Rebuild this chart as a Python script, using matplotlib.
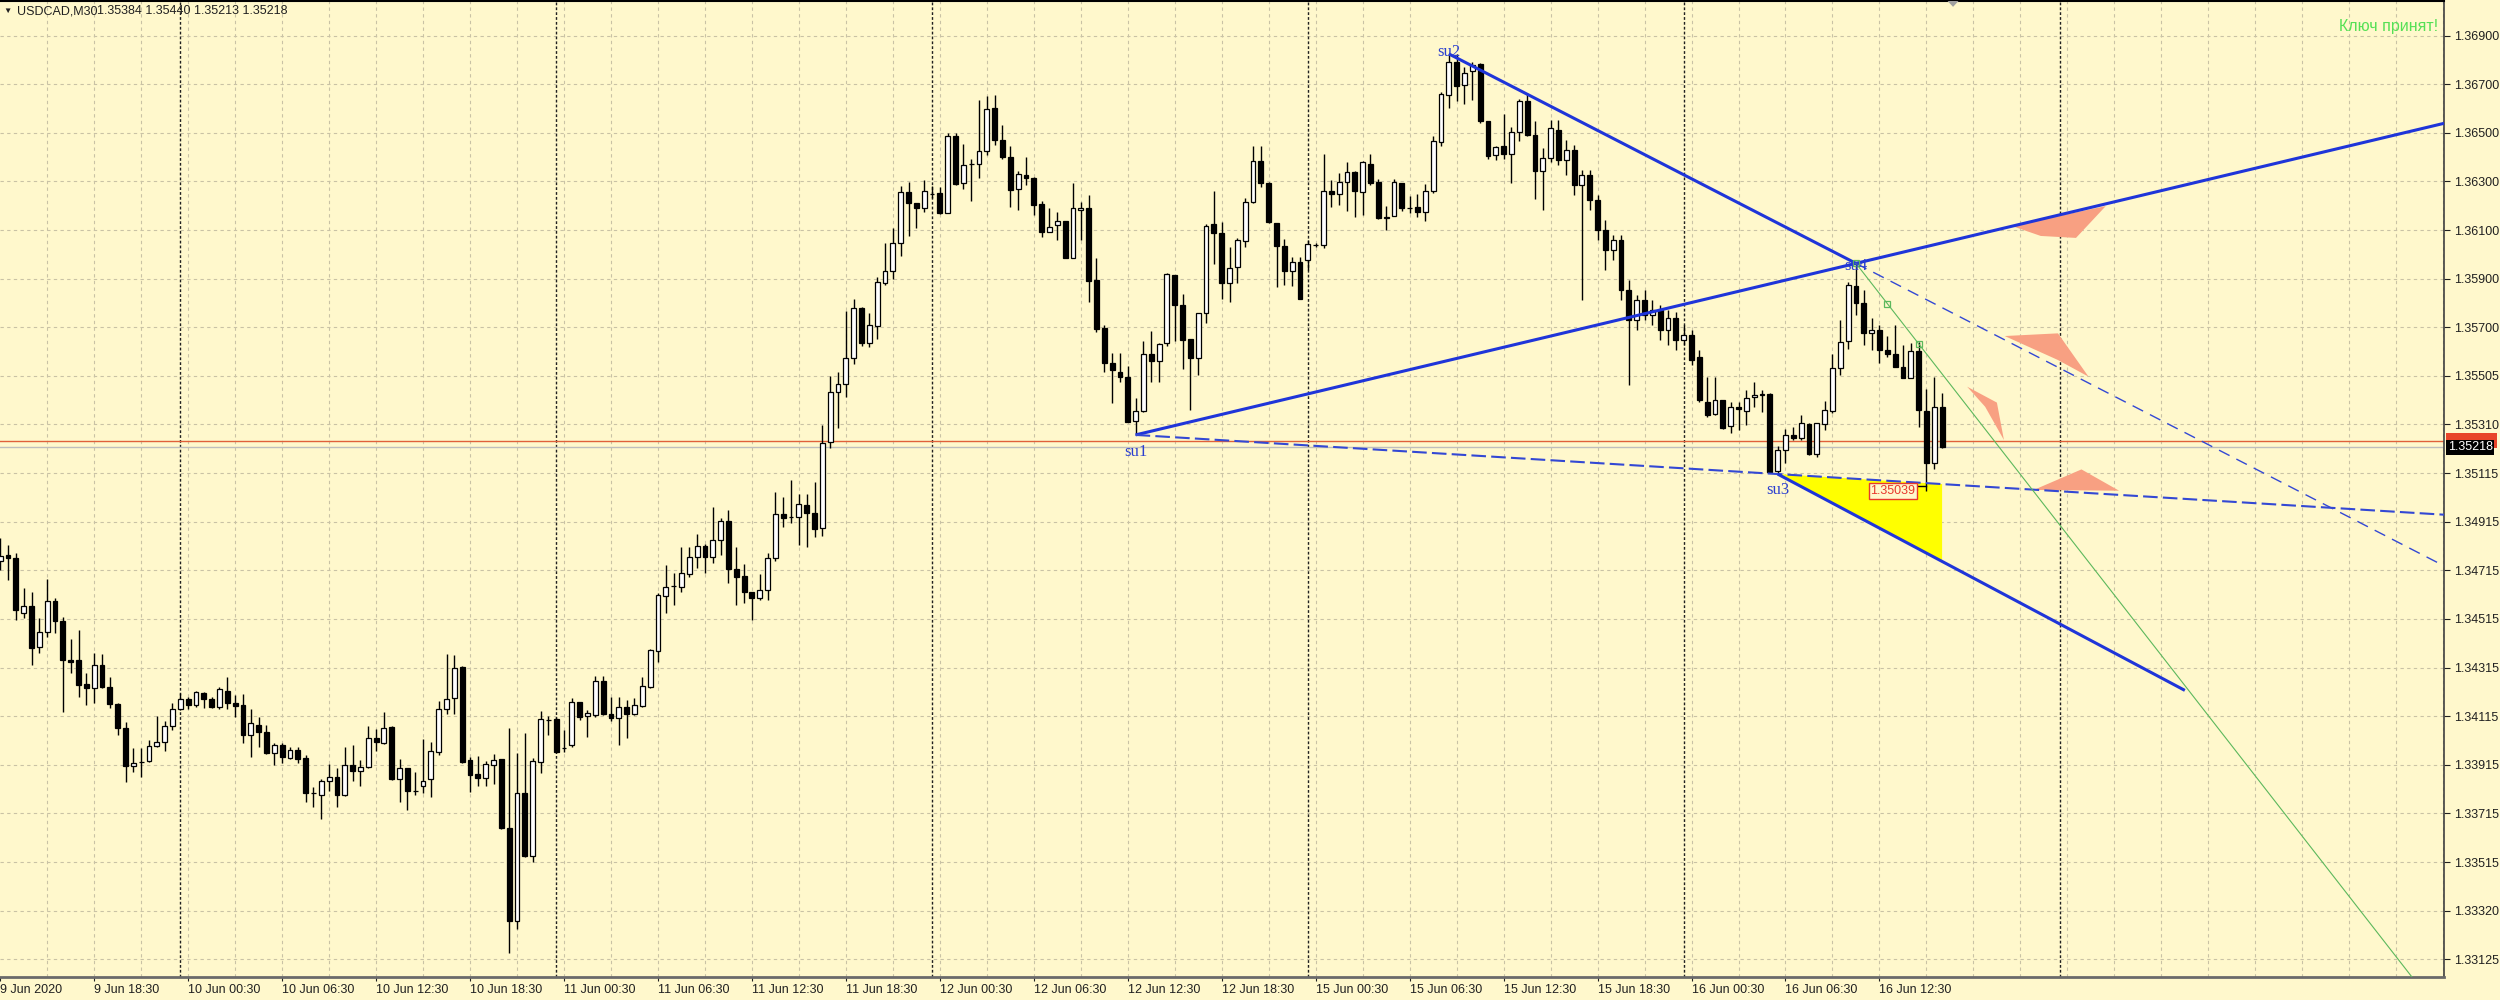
import numpy as np
import matplotlib.pyplot as plt
from matplotlib.patches import Polygon, Rectangle

plt.rcParams['font.family'] = ['Liberation Sans', 'DejaVu Sans']

# --- данные: бары M30 USDCAD, индекс 0 = 10 Jun 00:00 ---
first_bar = -23

opens = [
    1.34754, 1.34777, 1.34764, 1.34539, 1.34569, 1.34400, 1.34464, 1.34589, 1.34508, 1.34348,
    1.34348, 1.34249, 1.34233, 1.34328, 1.34237, 1.34167, 1.34072, 1.33915, 1.33933, 1.33937,
    1.33998, 1.34012, 1.34080, 1.34147, 1.34188, 1.34163, 1.34212, 1.34188, 1.34155, 1.34220,
    1.34173, 1.34163, 1.34041, 1.34084, 1.34053, 1.33969, 1.34000, 1.33946, 1.33980, 1.33949,
    1.33803, 1.33796, 1.33854, 1.33871, 1.33795, 1.33918, 1.33896, 1.33910, 1.34028, 1.34010,
    1.34074, 1.33863, 1.33906, 1.33814, 1.33833, 1.33863, 1.33974, 1.34147, 1.34192, 1.34318,
    1.33938, 1.33881, 1.33867, 1.33919, 1.33942, 1.33663, 1.33283, 1.33806, 1.33547, 1.33933,
    1.34103, 1.34106, 1.33987, 1.34001, 1.34175, 1.34119, 1.34123, 1.34264, 1.34128, 1.34112,
    1.34157, 1.34128, 1.34160, 1.34239, 1.34385, 1.34610, 1.34651, 1.34648, 1.34700, 1.34768,
    1.34814, 1.34768, 1.34839, 1.34917, 1.34719, 1.34691, 1.34627, 1.34600, 1.34634, 1.34764,
    1.34945, 1.34934, 1.34934, 1.34982, 1.34948, 1.34886, 1.35240, 1.35442, 1.35475, 1.35581,
    1.35785, 1.35645, 1.35713, 1.35890, 1.35939, 1.36051, 1.36262, 1.36217, 1.36194, 1.36253,
    1.36258, 1.36176, 1.36490, 1.36296, 1.36374, 1.36374, 1.36428, 1.36605, 1.36473, 1.36405,
    1.36272, 1.36330, 1.36319, 1.36212, 1.36099, 1.36126, 1.36143, 1.35992, 1.36187, 1.36194,
    1.35901, 1.35704, 1.35563, 1.35526, 1.35506, 1.35326, 1.35366, 1.35599, 1.35571, 1.35642,
    1.35922, 1.35799, 1.35659, 1.35584, 1.35765, 1.36130, 1.36094, 1.35890, 1.35953, 1.36062,
    1.36221, 1.36389, 1.36299, 1.36133, 1.36040, 1.35939, 1.35973, 1.35983, 1.36044, 1.36044,
    1.36265, 1.36253, 1.36303, 1.36344, 1.36260, 1.36375, 1.36303, 1.36153, 1.36164, 1.36299,
    1.36197, 1.36198, 1.36178, 1.36266, 1.36464, 1.36657, 1.36791, 1.36698, 1.36755, 1.36783,
    1.36551, 1.36412, 1.36450, 1.36416, 1.36507, 1.36633, 1.36494, 1.36348, 1.36398, 1.36514,
    1.36392, 1.36432, 1.36289, 1.36330, 1.36228, 1.36105, 1.36024, 1.36065, 1.35860, 1.35738,
    1.35819, 1.35758, 1.35778, 1.35697, 1.35746, 1.35656, 1.35676, 1.35587, 1.35404, 1.35353,
    1.35411, 1.35304, 1.35381, 1.35367, 1.35422, 1.35430, 1.35435, 1.35122, 1.35206, 1.35268,
    1.35254, 1.35313, 1.35190, 1.35313, 1.35367, 1.35540, 1.35652, 1.35877, 1.35806, 1.35683,
    1.35697, 1.35615, 1.35599, 1.35547, 1.35502, 1.35611, 1.35367, 1.35154, 1.35384,
]
highs = [
    1.34846, 1.34818, 1.34784, 1.34641, 1.34627, 1.34519, 1.34679, 1.34600, 1.34525, 1.34433,
    1.34471, 1.34296, 1.34378, 1.34373, 1.34280, 1.34171, 1.34096, 1.33987, 1.33987, 1.34021,
    1.34119, 1.34100, 1.34174, 1.34212, 1.34198, 1.34220, 1.34219, 1.34198, 1.34237, 1.34278,
    1.34205, 1.34209, 1.34148, 1.34117, 1.34083, 1.34010, 1.34008, 1.33991, 1.33991, 1.33960,
    1.33830, 1.33861, 1.33922, 1.33906, 1.33994, 1.34001, 1.33940, 1.34079, 1.34066, 1.34137,
    1.34079, 1.33944, 1.33906, 1.33889, 1.34024, 1.34012, 1.34182, 1.34373, 1.34369, 1.34324,
    1.33951, 1.33956, 1.33937, 1.33964, 1.33944, 1.34070, 1.33967, 1.34049, 1.33946, 1.34140,
    1.34119, 1.34114, 1.34062, 1.34192, 1.34175, 1.34144, 1.34283, 1.34283, 1.34196, 1.34196,
    1.34185, 1.34192, 1.34278, 1.34392, 1.34621, 1.34735, 1.34705, 1.34809, 1.34811, 1.34863,
    1.34822, 1.34975, 1.34927, 1.34961, 1.34811, 1.34741, 1.34627, 1.34698, 1.34784, 1.35036,
    1.35013, 1.35084, 1.35027, 1.35027, 1.35074, 1.35309, 1.35510, 1.35526, 1.35776, 1.35822,
    1.35792, 1.35767, 1.35915, 1.36051, 1.36112, 1.36285, 1.36300, 1.36217, 1.36310, 1.36285,
    1.36282, 1.36501, 1.36503, 1.36457, 1.36394, 1.36637, 1.36653, 1.36657, 1.36534, 1.36449,
    1.36348, 1.36402, 1.36323, 1.36225, 1.36194, 1.36180, 1.36143, 1.36296, 1.36221, 1.36248,
    1.35990, 1.35717, 1.35602, 1.35602, 1.35551, 1.35418, 1.35653, 1.35694, 1.35642, 1.35931,
    1.35922, 1.35843, 1.35659, 1.35768, 1.36130, 1.36266, 1.36139, 1.36037, 1.36072, 1.36237,
    1.36450, 1.36450, 1.36303, 1.36133, 1.36067, 1.35996, 1.35994, 1.36065, 1.36051, 1.36416,
    1.36310, 1.36337, 1.36385, 1.36348, 1.36389, 1.36415, 1.36313, 1.36204, 1.36314, 1.36299,
    1.36244, 1.36253, 1.36293, 1.36490, 1.36671, 1.36825, 1.36823, 1.36773, 1.36793, 1.36789,
    1.36551, 1.36450, 1.36579, 1.36528, 1.36640, 1.36667, 1.36552, 1.36439, 1.36555, 1.36555,
    1.36473, 1.36453, 1.36351, 1.36351, 1.36248, 1.36146, 1.36085, 1.36085, 1.35901, 1.35840,
    1.35860, 1.35819, 1.35799, 1.35778, 1.35770, 1.35717, 1.35697, 1.35615, 1.35506, 1.35506,
    1.35411, 1.35404, 1.35404, 1.35452, 1.35485, 1.35452, 1.35439, 1.35223, 1.35291, 1.35302,
    1.35349, 1.35315, 1.35318, 1.35408, 1.35599, 1.35738, 1.35894, 1.35969, 1.35860, 1.35745,
    1.35717, 1.35672, 1.35717, 1.35635, 1.35645, 1.35649, 1.35454, 1.35503, 1.35440,
]
lows = [
    1.34716, 1.34675, 1.34512, 1.34519, 1.34328, 1.34376, 1.34443, 1.34457, 1.34137, 1.34294,
    1.34198, 1.34164, 1.34174, 1.34235, 1.34151, 1.34042, 1.33851, 1.33889, 1.33871, 1.33933,
    1.33994, 1.33976, 1.34062, 1.34144, 1.34147, 1.34157, 1.34151, 1.34151, 1.34147, 1.34147,
    1.34117, 1.34010, 1.33951, 1.33994, 1.33965, 1.33919, 1.33929, 1.33942, 1.33926, 1.33769,
    1.33749, 1.33697, 1.33814, 1.33749, 1.33793, 1.33855, 1.33835, 1.33906, 1.33976, 1.34004,
    1.33858, 1.33767, 1.33735, 1.33796, 1.33803, 1.33787, 1.33960, 1.34128, 1.34126, 1.33926,
    1.33810, 1.33835, 1.33835, 1.33841, 1.33658, 1.33150, 1.33248, 1.33544, 1.33524, 1.33888,
    1.34042, 1.33970, 1.33974, 1.33991, 1.34103, 1.34035, 1.34114, 1.34123, 1.34099, 1.34001,
    1.34028, 1.34123, 1.34157, 1.34233, 1.34341, 1.34541, 1.34573, 1.34626, 1.34689, 1.34723,
    1.34705, 1.34743, 1.34777, 1.34662, 1.34573, 1.34580, 1.34512, 1.34593, 1.34593, 1.34754,
    1.34890, 1.34907, 1.34818, 1.34809, 1.34852, 1.34855, 1.35213, 1.35295, 1.35422, 1.35558,
    1.35631, 1.35626, 1.35659, 1.35881, 1.35904, 1.36000, 1.36081, 1.36115, 1.36180, 1.36235,
    1.36172, 1.36175, 1.36289, 1.36272, 1.36225, 1.36317, 1.36412, 1.36453, 1.36394, 1.36201,
    1.36187, 1.36289, 1.36167, 1.36076, 1.36099, 1.36065, 1.35990, 1.35990, 1.36065, 1.35812,
    1.35690, 1.35526, 1.35397, 1.35486, 1.35320, 1.35268, 1.35363, 1.35486, 1.35486, 1.35631,
    1.35653, 1.35537, 1.35370, 1.35513, 1.35724, 1.35965, 1.35822, 1.35812, 1.35888, 1.36037,
    1.36217, 1.36280, 1.36135, 1.35871, 1.35881, 1.35877, 1.35824, 1.35942, 1.36037, 1.36031,
    1.36198, 1.36208, 1.36184, 1.36157, 1.36167, 1.36289, 1.36149, 1.36105, 1.36163, 1.36184,
    1.36174, 1.36157, 1.36143, 1.36255, 1.36449, 1.36603, 1.36634, 1.36620, 1.36637, 1.36541,
    1.36394, 1.36392, 1.36394, 1.36299, 1.36470, 1.36490, 1.36231, 1.36187, 1.36383, 1.36371,
    1.36330, 1.36248, 1.35819, 1.36187, 1.36065, 1.35942, 1.35983, 1.35819, 1.35472, 1.35697,
    1.35738, 1.35717, 1.35656, 1.35635, 1.35615, 1.35635, 1.35554, 1.35403, 1.35342, 1.35349,
    1.35293, 1.35275, 1.35288, 1.35309, 1.35383, 1.35363, 1.35114, 1.35108, 1.35152, 1.35247,
    1.35247, 1.35186, 1.35177, 1.35288, 1.35356, 1.35513, 1.35619, 1.35758, 1.35635, 1.35615,
    1.35561, 1.35588, 1.35544, 1.35499, 1.35499, 1.35302, 1.35039, 1.35127, 1.35213,
]
closes = [
    1.34773, 1.34764, 1.34552, 1.34569, 1.34396, 1.34464, 1.34589, 1.34508, 1.34348, 1.34341,
    1.34246, 1.34233, 1.34328, 1.34237, 1.34167, 1.34072, 1.33916, 1.33929, 1.33932, 1.33998,
    1.34014, 1.34080, 1.34147, 1.34188, 1.34163, 1.34217, 1.34188, 1.34155, 1.34229, 1.34171,
    1.34161, 1.34041, 1.34090, 1.34053, 1.33967, 1.34000, 1.33953, 1.33980, 1.33942, 1.33803,
    1.33803, 1.33854, 1.33871, 1.33796, 1.33918, 1.33896, 1.33912, 1.34028, 1.34014, 1.34069,
    1.33862, 1.33906, 1.33814, 1.33814, 1.33855, 1.33976, 1.34147, 1.34189, 1.34317, 1.33933,
    1.33880, 1.33867, 1.33922, 1.33940, 1.33660, 1.33283, 1.33806, 1.33547, 1.33937, 1.34106,
    1.34103, 1.33974, 1.33987, 1.34178, 1.34114, 1.34130, 1.34264, 1.34128, 1.34112, 1.34155,
    1.34128, 1.34163, 1.34243, 1.34389, 1.34614, 1.34648, 1.34651, 1.34702, 1.34768, 1.34814,
    1.34768, 1.34839, 1.34917, 1.34719, 1.34686, 1.34627, 1.34600, 1.34634, 1.34766, 1.34945,
    1.34927, 1.34934, 1.34984, 1.34948, 1.34882, 1.35236, 1.35442, 1.35475, 1.35581, 1.35785,
    1.35642, 1.35717, 1.35894, 1.35939, 1.36054, 1.36262, 1.36217, 1.36194, 1.36265, 1.36253,
    1.36174, 1.36490, 1.36293, 1.36371, 1.36374, 1.36430, 1.36600, 1.36473, 1.36402, 1.36269,
    1.36333, 1.36317, 1.36208, 1.36096, 1.36116, 1.36143, 1.35992, 1.36194, 1.36194, 1.35897,
    1.35701, 1.35563, 1.35533, 1.35504, 1.35322, 1.35366, 1.35599, 1.35571, 1.35638, 1.35924,
    1.35799, 1.35656, 1.35584, 1.35768, 1.36122, 1.36094, 1.35890, 1.35949, 1.36065, 1.36221,
    1.36389, 1.36296, 1.36137, 1.36040, 1.35939, 1.35973, 1.35824, 1.36048, 1.36044, 1.36266,
    1.36253, 1.36303, 1.36344, 1.36266, 1.36382, 1.36296, 1.36153, 1.36160, 1.36303, 1.36194,
    1.36197, 1.36178, 1.36266, 1.36470, 1.36660, 1.36791, 1.36695, 1.36748, 1.36780, 1.36551,
    1.36409, 1.36446, 1.36416, 1.36507, 1.36633, 1.36494, 1.36348, 1.36398, 1.36521, 1.36392,
    1.36432, 1.36289, 1.36330, 1.36228, 1.36105, 1.36024, 1.36065, 1.35860, 1.35738, 1.35819,
    1.35758, 1.35778, 1.35697, 1.35746, 1.35656, 1.35676, 1.35574, 1.35411, 1.35349, 1.35411,
    1.35295, 1.35383, 1.35373, 1.35418, 1.35431, 1.35435, 1.35118, 1.35206, 1.35268, 1.35254,
    1.35318, 1.35190, 1.35315, 1.35370, 1.35540, 1.35649, 1.35881, 1.35806, 1.35683, 1.35697,
    1.35615, 1.35599, 1.35547, 1.35502, 1.35611, 1.35370, 1.35154, 1.35383, 1.35218,
]

# шкала цен (как в терминале)
price_labels = ['1.36900', '1.36700', '1.36500', '1.36300', '1.36100', '1.35900', '1.35700',
                '1.35505', '1.35310', '1.35115', '1.34915', '1.34715', '1.34515', '1.34315',
                '1.34115', '1.33915', '1.33715', '1.33515', '1.33320', '1.33125']

# шкала времени
time_bars = [-23, -11, 1, 13, 25, 37, 49, 61, 73, 85, 97, 109, 121, 133, 145, 157, 169, 181, 193, 205, 217]
time_labels = ['9 Jun 2020', '9 Jun 18:30',
               '10 Jun 00:30', '10 Jun 06:30', '10 Jun 12:30', '10 Jun 18:30',
               '11 Jun 00:30', '11 Jun 06:30', '11 Jun 12:30', '11 Jun 18:30',
               '12 Jun 00:30', '12 Jun 06:30', '12 Jun 12:30', '12 Jun 18:30',
               '15 Jun 00:30', '15 Jun 06:30', '15 Jun 12:30', '15 Jun 18:30',
               '16 Jun 00:30', '16 Jun 06:30', '16 Jun 12:30']
day_bars = [0, 48, 96, 144, 192, 240]

# точки разметки su1..su4
su_names = ['su1', 'su2', 'su3', 'su4']
su_bars = [122, 162, 204, 214]
su_prices = [1.35268, 1.36825, 1.35108, 1.35969]
proj_end_bar, proj_end_price = 256, 1.34224      # конец проекции от su3
green_end_bar, green_end_price = 285.0, 1.33053  # выход зелёной линии на нижний край
green_marks = [214, 218, 222]
zone_right_bar = 225
shift_bar = 226.4                                # маркер сдвига графика

bid, ask = 1.35218, 1.35245
low_label = 1.35039

# лососевые фигуры (бар, цена)
zones = [
    ([233.9, 245.9, 242.1, 237.6], [1.36122, 1.36203, 1.36073, 1.36081]),
    ([233.0, 239.8, 243.7, 239.8], [1.35672, 1.35683, 1.35506, 1.35574]),
    ([228.2, 232.0, 232.9, 230.5], [1.35465, 1.35400, 1.35247, 1.35383]),
    ([236.7, 242.8, 247.6], [1.35043, 1.35127, 1.35040]),
]

BG = '#fff8cc'
BLUE = '#1f35d9'
DBLUE = '#3348d4'
SALMON = '#f8a082'

fig = plt.figure(figsize=(25, 10), dpi=100, facecolor=BG)
ax = fig.add_axes([0.0, 0.023, 2444 / 2500, 0.976])
ax.set_facecolor(BG)

x_left, x_right = -23.03, 289.1
y_bot, y_top = 1.330528, 1.370411
ax.set_xlim(x_left, x_right)
ax.set_ylim(y_bot, y_top)

# сетка
ypos = np.linspace(1.36900, 1.33125, len(price_labels))
for yv in ypos:
    ax.axhline(yv, color='#c9c2a5', lw=0.8, ls=(0, (3, 3)), zorder=0)
for xv in np.arange(-17, 290, 6):
    ax.axvline(xv, color='#c9c2a5', lw=0.8, ls=(0, (3, 3)), zorder=0)
for xv in day_bars:
    ax.axvline(xv, color='#202020', lw=1.0, ls=(0, (2, 1.5)), zorder=0.5)

# линии bid/ask
ax.axhline(ask, color='#e0603a', lw=1.0, zorder=1)
ax.axhline(bid, color='#bdbdbd', lw=1.0, zorder=1)

# свечи
o = np.array(opens); h = np.array(highs); l = np.array(lows); c = np.array(closes)
xb = np.arange(len(o)) + first_bar
up = c >= o

# жёлтый треугольник от su3
s1b, s1p = su_bars[0], su_prices[0]
s2b, s2p = su_bars[1], su_prices[1]
s3b, s3p = su_bars[2], su_prices[2]
s4b, s4p = su_bars[3], su_prices[3]
sl_c = (s3p - s1p) / (s3b - s1b)
sl_d = (proj_end_price - s3p) / (proj_end_bar - s3b)
tri = Polygon([[s3b, s3p],
               [zone_right_bar, s3p + sl_c * (zone_right_bar - s3b)],
               [zone_right_bar, s3p + sl_d * (zone_right_bar - s3b)]],
              closed=True, facecolor='#ffff00', edgecolor='none', zorder=1.5)
ax.add_patch(tri)

ax.vlines(xb, l, h, color='black', lw=1.0, zorder=3)
ax.bar(xb, np.abs(c - o), bottom=np.minimum(o, c), width=0.62,
       color=np.where(up, 'white', 'black'), edgecolor='black', linewidth=0.9, zorder=4)

# трендовые линии
sl_a = (s4p - s1p) / (s4b - s1b)
ax.plot([s1b, x_right], [s1p, s1p + sl_a * (x_right - s1b)], color=BLUE, lw=2.2, zorder=5,
        solid_capstyle='butt')
ax.plot([s2b, s4b], [s2p, s4p], color=BLUE, lw=2.2, zorder=5, solid_capstyle='butt')
sl_b = (s4p - s2p) / (s4b - s2b)
ax.plot([s4b, x_right], [s4p, s4p + sl_b * (x_right - s4b)], color=DBLUE, lw=1.0,
        ls=(0, (8.5, 5.5)), zorder=5)
ax.plot([s1b, x_right], [s1p, s1p + sl_c * (x_right - s1b)], color=DBLUE, lw=1.5,
        ls=(0, (7, 2.5)), zorder=5)
ax.plot([s3b, proj_end_bar], [s3p, proj_end_price], color=BLUE, lw=2.2, zorder=5,
        solid_capstyle='butt')

# зелёная линия
ax.plot([s4b, green_end_bar], [s4p, green_end_price], color='#5cb85c', lw=0.8, zorder=5)
sl_g = (green_end_price - s4p) / (green_end_bar - s4b)
gm = np.array(green_marks)
ax.plot(gm, s4p + sl_g * (gm - s4b), ls='none', marker='s', ms=4,
        mfc='none', mec='#5cb85c', mew=0.9, zorder=6)

# зоны
for zb, zp in zones:
    ax.add_patch(Polygon(np.column_stack([zb, zp]), closed=True, facecolor=SALMON,
                         edgecolor='none', zorder=2))

# подписи su
su_offsets = [-17, 2, -16, -3]
for name, b, p, off in zip(su_names, su_bars, su_prices, su_offsets):
    ax.annotate(name, xy=(b, p), xytext=(0, off), textcoords='offset pixels',
                ha='center', va='center', fontsize=12, color='#2b3fd0',
                family='Liberation Serif', zorder=7)

# метка минимума
ax.text(221.6, low_label, '1.35039', ha='right', va='center', fontsize=9, color='#e8382c',
        zorder=7, bbox=dict(boxstyle='square,pad=0.15', fc=BG, ec='#e8382c', lw=1))
ax.plot([221.6, 223], [low_label + 0.0002, low_label + 0.0002], color='black', lw=1, zorder=6)

# маркер сдвига графика
xtr = ax.get_xaxis_transform()
ax.add_patch(Polygon([[shift_bar - 0.7, 1.0], [shift_bar + 0.7, 1.0], [shift_bar, 0.994]],
                     closed=True, transform=xtr, facecolor='#a0a0a0', edgecolor='none',
                     clip_on=False, zorder=8))

# оси
ax.spines['left'].set_visible(False)
ax.spines['right'].set_color('#404040'); ax.spines['right'].set_linewidth(1.2)
ax.spines['bottom'].set_color('#6a6a6a'); ax.spines['bottom'].set_linewidth(2.0)
ax.spines['top'].set_color('black'); ax.spines['top'].set_linewidth(1.5)

ax.yaxis.tick_right()
ax.set_yticks(ypos)
ax.set_yticklabels(price_labels)
ax.tick_params(axis='y', direction='out', length=4, pad=3, labelsize=9,
               colors='#202020', right=True, left=False)
ax.set_xticks(time_bars)
ax.set_xticklabels(time_labels, ha='left')
ax.tick_params(axis='x', direction='out', length=3, pad=2, labelsize=9, colors='#202020')

# ценовые метки справа: красная (ask) почти закрыта чёрной (bid)
ytr = ax.get_yaxis_transform()
ax.add_patch(Rectangle((1.0008, ask - 0.00029), 0.0210, 0.00058, transform=ytr,
                       facecolor='#e8452a', edgecolor='none', clip_on=False, zorder=8))
ax.text(1.0015, bid, '1.35218', transform=ytr, ha='left', va='center', fontsize=9,
        color='white', zorder=9, clip_on=False,
        bbox=dict(boxstyle='square,pad=0.12', fc='black', ec='none'))

# заголовок и сообщение
fig.text(3 / 2500, 1 - 11 / 1000, '\u25bc', fontsize=6, va='center', ha='left', color='#202020')
fig.text(17 / 2500, 1 - 11 / 1000, 'USDCAD,M30', fontsize=9, va='center', ha='left', color='#202020')
fig.text(97 / 2500, 1 - 11 / 1000, '1.35384 1.35440 1.35213 1.35218', fontsize=9,
         va='center', ha='left', color='#202020')
fig.text(2438 / 2500, 1 - 26.7 / 1000, 'Ключ принят!', fontsize=11.5, va='center',
         ha='right', color='#55e055')

fig.savefig('out.png', dpi=100, facecolor=BG)
